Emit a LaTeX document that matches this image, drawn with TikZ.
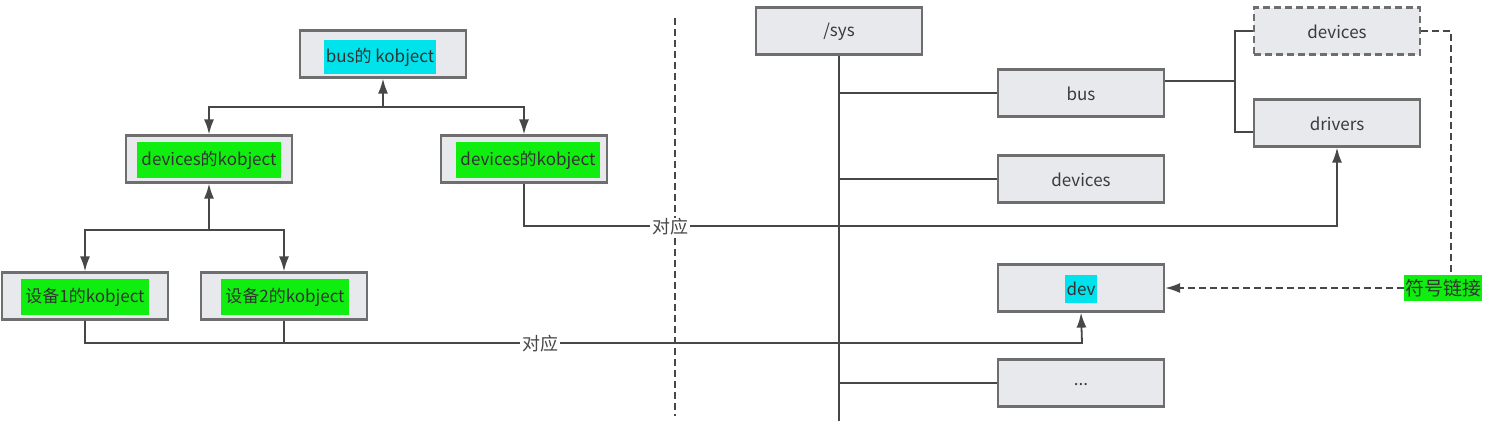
\documentclass[tikz,border=0pt]{standalone}
\usepackage{fontspec}
\setmainfont{Noto Sans CJK SC}
\usetikzlibrary{arrows.meta,calc}
\definecolor{boxfill}{HTML}{E8E9EC}
\definecolor{boxline}{HTML}{6E6E6E}
\definecolor{linec}{HTML}{474747}
\definecolor{txt}{HTML}{3A3A3A}
\definecolor{hlcyan}{HTML}{00E2EC}
\definecolor{hlgreen}{HTML}{10EE10}
\tikzset{
  fbox/.style={draw=boxline, fill=boxfill, line width=2.2pt, minimum width=166pt, minimum height=47pt, inner sep=0pt},
  dbox/.style={fbox, dash pattern=on 7pt off 4pt},
  lbl/.style={text=txt, font=\fontsize{17}{19}\selectfont, inner sep=0pt},
  hlc/.style={lbl, fill=hlcyan, inner xsep=2pt, inner ysep=8pt, text=black!80},
  hlg/.style={lbl, fill=hlgreen, inner xsep=4pt, inner ysep=9pt, text=black!80},
  conn/.style={draw=linec, line width=1.8pt},
  tip/.style={-{Latex[length=15pt,width=10pt]}},
  arr/.style={conn, tip},
  dconn/.style={conn, dash pattern=on 7pt off 4pt},
  wlab/.style={lbl, font=\fontsize{18}{20}\selectfont, fill=white, inner xsep=2pt, inner ysep=1pt, text=linec}
}
\begin{document}
\begin{tikzpicture}[x=1pt,y=-1pt]
\useasboundingbox[fill=white] (0,0) rectangle (1490,421);
% separator
\coordinate (sepT) at (675,18);
\coordinate (sepB) at (675,416);
\draw[dconn, line width=1.5pt] (sepT) -- (sepB);
% left tree boxes
\node[fbox] (buskobj) at (383,54) {};
\node[hlc] (tbus) at (380,57) {bus的 kobject};
\node[fbox] (devL) at (209,159) {};
\node[hlg] (tdevL) at (209,160) {devices的kobject};
\node[fbox] (devR) at (524,159) {};
\node[hlg] (tdevR) at (528,160) {devices的kobject};
\node[fbox] (dev1) at (85,296) {};
\node[hlg] (tdev1) at (85,297) {设备1的kobject};
\node[fbox] (dev2) at (284,296) {};
\node[hlg] (tdev2) at (285,297) {设备2的kobject};
% right tree boxes
\node[fbox] (sys) at (839,31) {};
\node[lbl] (tsys) at (839,32) {/sys};
\node[fbox] (bus) at (1081,93) {};
\node[lbl] (tbusr) at (1081,94) {bus};
\node[fbox] (devices) at (1081,179) {};
\node[lbl] (tdevices) at (1081,180) {devices};
\node[fbox] (dev) at (1081,288) {};
\node[hlc, inner ysep=7pt] (tdev) at (1081,289) {dev};
\node[fbox] (dots) at (1081,383) {};
\node[lbl] (tdots) at (1081,385) {...};
\node[dbox] (devD) at (1337,31) {};
\node[lbl] (tdevD) at (1337,32) {devices};
\node[fbox] (drivers) at (1337,123) {};
\node[lbl] (tdrivers) at (1337,124) {drivers};
% left tree connectors
\coordinate (j1) at (383,107);
\draw[arr] (j1) -- (buskobj.south);
\draw[arr] (j1) -| (devL.north);
\draw[arr] (j1) -| (devR.north);
\coordinate (j2) at (209,230);
\draw[arr] (j2) -- (devL.south);
\draw[arr] (j2) -| (dev1.north);
\draw[arr] (j2) -| (dev2.north);
% sys trunk
\coordinate (trunkB) at (839,421);
\draw[conn] (sys.south) -- (trunkB);
\draw[conn] (sys.south |- bus.west) -- (bus.west);
\draw[conn] (sys.south |- devices.west) -- (devices.west);
\draw[conn] (sys.south |- dots.west) -- (dots.west);
% bus to devices/drivers
\coordinate (bj) at (1235,81);
\coordinate (bjT) at (1235,31);
\coordinate (bjB) at (1235,132);
\draw[conn] (bus.east |- bj) -- (bj);
\draw[conn] (devD.west) -- (bjT) -- (bjB) -- (drivers.west |- bjB);
% correspondences
\coordinate (c1) at (1337,226);
\draw[arr] (devR.south) |- (c1) -- (drivers.south);
\node[wlab] (lab1) at (670,227) {对应};
\coordinate (c2) at (1082,343);
\draw[arr] (dev1.south) |- (c2) -- (dev.south);
\draw[conn] (dev2.south) -- (dev2.south |- c2);
\node[wlab] (lab2) at (540,344) {对应};
% symlink
\node[hlg, font=\fontsize{19}{21}\selectfont, inner xsep=1pt, inner ysep=4pt] (sym) at (1443,288) {符号链接};
\coordinate (s1) at (1451,31);
\draw[dconn] (devD.east) -- (s1) -- (s1 |- sym.north);
\draw[dconn, tip] (sym.west) -- (dev.east);
\end{tikzpicture}
\end{document}
